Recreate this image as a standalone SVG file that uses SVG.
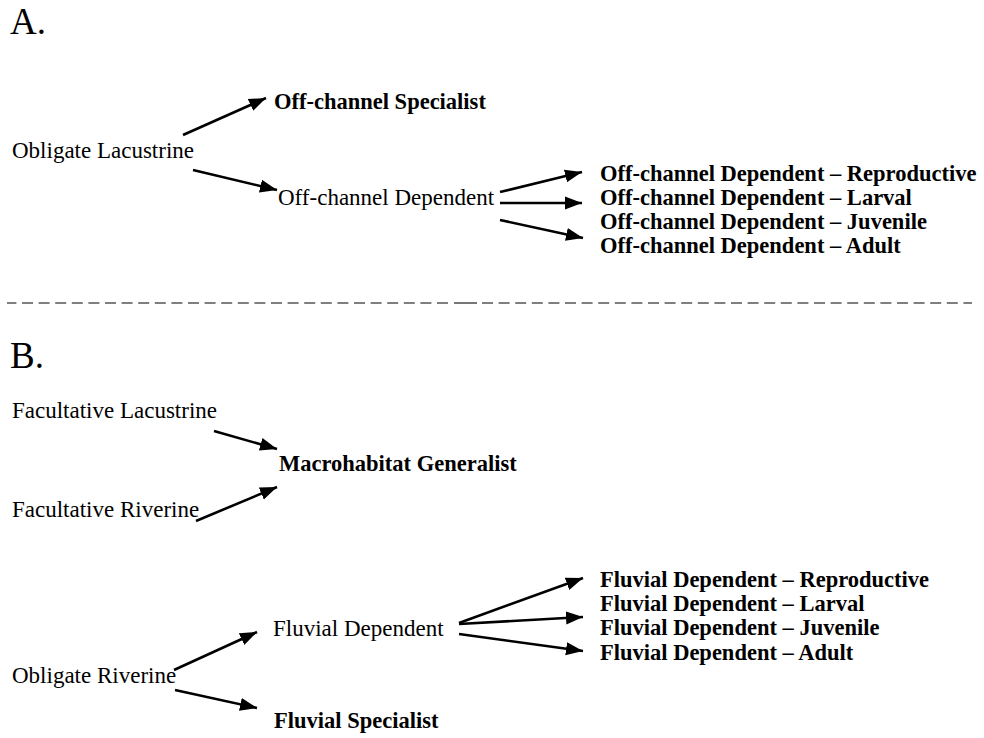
<svg xmlns="http://www.w3.org/2000/svg" width="984" height="738" viewBox="0 0 984 738">
<style>
text{font-family:"Liberation Serif","Times New Roman",serif;fill:#000}
.r{font-size:23px}
.b{font-size:22.5px;font-weight:bold}
.t{font-size:37px}
.c line{stroke:#000;stroke-width:2.6;marker-end:url(#ah)}
.sep{stroke:#555;stroke-width:1.6;fill:none}
</style>
<defs>
<marker id="ah" markerUnits="userSpaceOnUse" markerWidth="18" markerHeight="14" refX="17" refY="7" orient="auto" viewBox="0 0 18 14">
<path d="M0,0.5 L17,7 L0,13.5 Z" fill="#000"/>
</marker>
</defs>
<rect width="984" height="738" fill="#fff"/>
<g id="title-a"><text class="t" x="10" y="34">A.</text></g>
<g id="title-b"><text class="t" x="10" y="368">B.</text></g>
<g id="separator">
<line class="sep" x1="448" y1="303" x2="7" y2="303" stroke-dasharray="11 5.6"/>
<line class="sep" x1="454" y1="303" x2="477" y2="303"/>
<line class="sep" x1="482" y1="303" x2="972" y2="303" stroke-dasharray="11 5.6"/>
</g>
<g id="n-obligate-lacustrine"><text class="r" x="12" y="158">Obligate Lacustrine</text></g>
<g id="n-offchannel-specialist"><text class="b" x="274" y="109">Off-channel Specialist</text></g>
<g id="n-offchannel-dependent"><text class="r" x="278" y="205">Off-channel Dependent</text></g>
<g id="n-oc-reproductive"><text class="b" x="600" y="181">Off-channel Dependent – Reproductive</text></g>
<g id="n-oc-larval"><text class="b" x="600" y="205">Off-channel Dependent – Larval</text></g>
<g id="n-oc-juvenile"><text class="b" x="600" y="229">Off-channel Dependent – Juvenile</text></g>
<g id="n-oc-adult"><text class="b" x="600" y="253">Off-channel Dependent – Adult</text></g>
<g id="n-facultative-lacustrine"><text class="r" x="12" y="418">Facultative Lacustrine</text></g>
<g id="n-macrohabitat-generalist"><text class="b" x="279" y="471">Macrohabitat Generalist</text></g>
<g id="n-facultative-riverine"><text class="r" x="12" y="517">Facultative Riverine</text></g>
<g id="n-fluvial-dependent"><text class="r" x="273" y="636">Fluvial Dependent</text></g>
<g id="n-obligate-riverine"><text class="r" x="12" y="683">Obligate Riverine</text></g>
<g id="n-fluvial-specialist"><text class="b" x="274" y="728">Fluvial Specialist</text></g>
<g id="n-fd-reproductive"><text class="b" x="600" y="587">Fluvial Dependent – Reproductive</text></g>
<g id="n-fd-larval"><text class="b" x="600" y="611">Fluvial Dependent – Larval</text></g>
<g id="n-fd-juvenile"><text class="b" x="600" y="635">Fluvial Dependent – Juvenile</text></g>
<g id="n-fd-adult"><text class="b" x="600" y="660">Fluvial Dependent – Adult</text></g>
<g id="connectors" class="c">
<line x1="183" y1="135" x2="266" y2="98"/>
<line x1="193" y1="170" x2="277" y2="190"/>
<line x1="500" y1="192" x2="582" y2="172"/>
<line x1="500" y1="203" x2="582" y2="203"/>
<line x1="500" y1="220" x2="583" y2="238"/>
<line x1="214" y1="431" x2="277" y2="449"/>
<line x1="196" y1="521" x2="277" y2="487"/>
<line x1="174" y1="670" x2="257" y2="632"/>
<line x1="175" y1="690" x2="257" y2="708"/>
<line x1="459" y1="623" x2="583" y2="578"/>
<line x1="459" y1="624" x2="583" y2="617"/>
<line x1="459" y1="634" x2="583" y2="651"/>
</g>
</svg>
